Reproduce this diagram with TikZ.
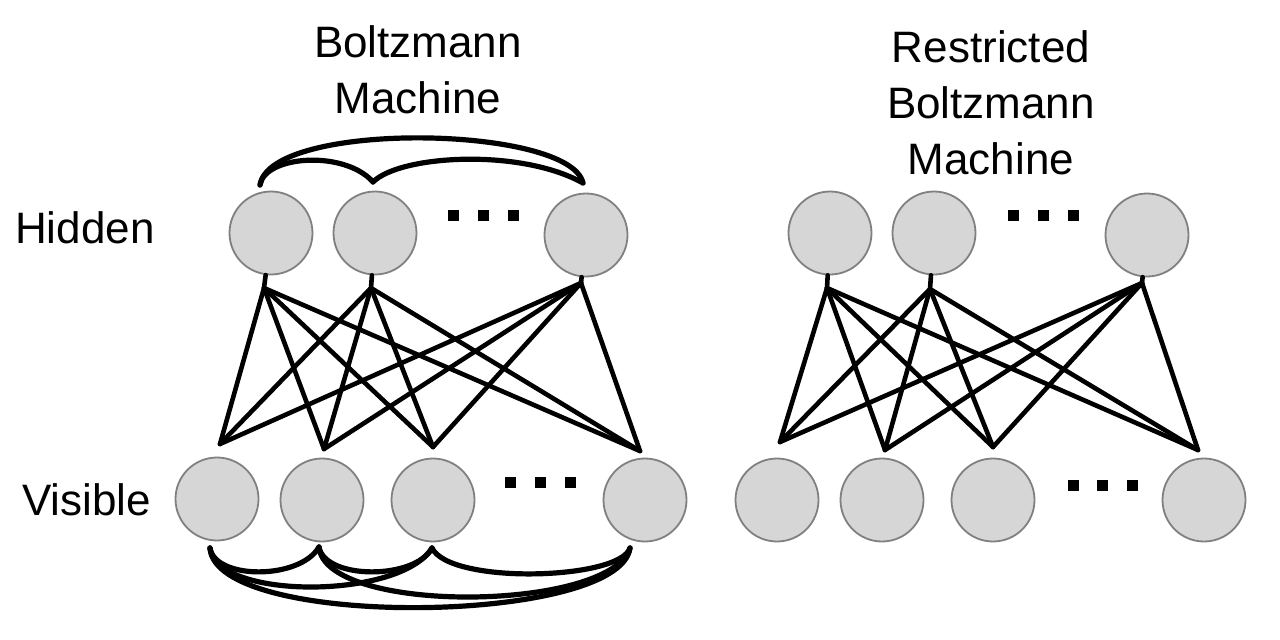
\documentclass[tikz,border=0pt]{standalone}
\usepackage{fontspec}
\setmainfont{Liberation Sans}
\begin{document}
\begin{tikzpicture}[x=1pt,y=-1pt,
  unit/.style={circle,draw=black!50,line width=1.8pt,fill=black!16,minimum size=83pt,inner sep=0pt},
  conn/.style={line width=4.6pt,line cap=round,line join=round},
  arc/.style={line width=5.2pt,line cap=round},
  dotsq/.style={fill=black,minimum size=11pt,inner sep=0pt,rectangle},
  lbl/.style={inner sep=0pt,font=\fontsize{44}{56}\selectfont,align=center}]
\useasboundingbox[fill=white] (0,0) rectangle (1280,640);

% ---------- labels ----------
\node[lbl,anchor=north] (t1) at (418,25) {Boltzmann\\Machine};
\node[lbl,anchor=north] (t2) at (991,30) {Restricted\\Boltzmann\\Machine};
\node[lbl,anchor=base west] (lh) at (15,243) {Hidden};
\node[lbl,anchor=base west] (lv) at (22,515) {Visible};

% ---------- left: Boltzmann machine ----------
\node[unit] (lh1) at (271,233) {};
\node[unit] (lh2) at (375,233) {};
\node[unit] (lh3) at (586,235) {};
\node[unit] (lv1) at (217,499) {};
\node[unit] (lv2) at (322,500) {};
\node[unit] (lv3) at (433,500) {};
\node[unit] (lv4) at (645,500) {};
\node[dotsq] (ld1) at (453,215) {};
\node[dotsq] (ld2) at (483,215) {};
\node[dotsq] (ld3) at (513,215) {};
\node[dotsq] (ld4) at (510,482) {};
\node[dotsq] (ld5) at (540,482) {};
\node[dotsq] (ld6) at (570,482) {};

% ports
\coordinate (lh1b) at (264,288);
\coordinate (lh2b) at (371,288);
\coordinate (lh3b) at (581,283);
\coordinate (lv1t) at (220,444);
\coordinate (lv2t) at (324,449);
\coordinate (lv3t) at (433,447);
\coordinate (lv4t) at (640,451);
\coordinate (lh1t) at (260,185);
\coordinate (lh2t) at (373,182);
\coordinate (lh3t) at (583,183);
\coordinate (lv1b) at (210,548);
\coordinate (lv2b) at (319,547);
\coordinate (lv3b) at (432,548);
\coordinate (lv4b) at (630,548);

\draw[conn] (lh1) -- (lh1b);
\draw[conn] (lh2) -- (lh2b);
\draw[conn] (lh3) -- (lh3b);
\foreach \h in {lh1b,lh2b,lh3b}
  \foreach \v in {lv1t,lv2t,lv3t,lv4t}
    \draw[conn] (\h) -- (\v);

% hidden-hidden arcs
\draw[arc] (lh1t) .. controls (265,155) and (345,150) .. (lh2t);
\draw[arc] (lh2t) .. controls (400,155) and (520,148) .. (lh3t);
\draw[arc] (lh1t) .. controls (270,120) and (570,125) .. (lh3t);
% visible-visible arcs
\draw[arc] (lv1b) .. controls (215,580) and (300,580) .. (lv2b);
\draw[arc] (lv2b) .. controls (325,580) and (415,580) .. (lv3b);
\draw[arc] (lv3b) .. controls (450,585) and (620,580) .. (lv4b);
\draw[arc] (lv1b) .. controls (215,600) and (400,600) .. (lv3b);
\draw[arc] (lv2b) .. controls (325,615) and (610,612) .. (lv4b);
\draw[arc] (lv1b) .. controls (215,630) and (620,625) .. (lv4b);

% ---------- right: restricted Boltzmann machine ----------
\node[unit] (rh1) at (830,233) {};
\node[unit] (rh2) at (934,233) {};
\node[unit] (rh3) at (1147,235) {};
\node[unit] (rv1) at (777,500) {};
\node[unit] (rv2) at (882,500) {};
\node[unit] (rv3) at (993,500) {};
\node[unit] (rv4) at (1204,500) {};
\node[dotsq] (rd1) at (1013,215) {};
\node[dotsq] (rd2) at (1043,215) {};
\node[dotsq] (rd3) at (1073,215) {};
\node[dotsq] (rd4) at (1073,485) {};
\node[dotsq] (rd5) at (1102,485) {};
\node[dotsq] (rd6) at (1132,485) {};

\coordinate (rh1b) at (827,288);
\coordinate (rh2b) at (930,289);
\coordinate (rh3b) at (1142,283);
\coordinate (rv1t) at (780,442);
\coordinate (rv2t) at (885,450);
\coordinate (rv3t) at (993,447);
\coordinate (rv4t) at (1198,450);

\draw[conn] (rh1) -- (rh1b);
\draw[conn] (rh2) -- (rh2b);
\draw[conn] (rh3) -- (rh3b);
\foreach \h in {rh1b,rh2b,rh3b}
  \foreach \v in {rv1t,rv2t,rv3t,rv4t}
    \draw[conn] (\h) -- (\v);
\end{tikzpicture}
\end{document}
